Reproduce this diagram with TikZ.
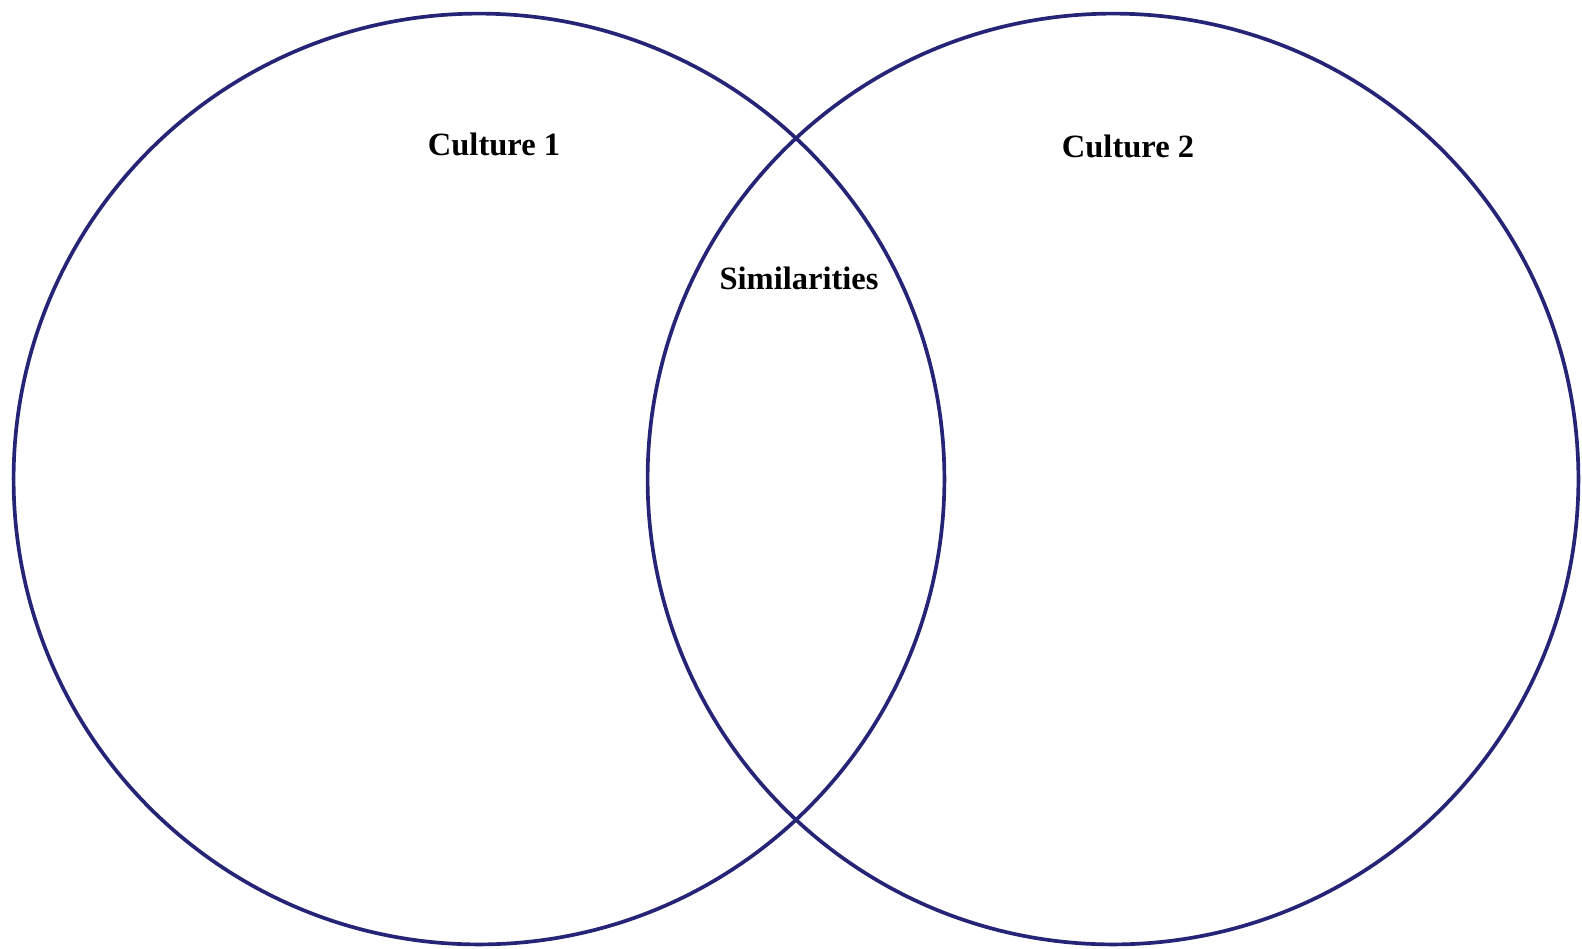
\documentclass[tikz,border=0pt]{standalone}
\usepackage{fontspec}
\setmainfont{Liberation Serif}
\usepackage{tikz}
\usetikzlibrary{positioning}
\definecolor{venblue}{RGB}{38,36,118}
\tikzset{
  ring/.style={circle,draw=venblue,line width=2.1pt,minimum size=18.62cm,inner sep=0pt},
  lbl/.style={font=\fontsize{18.5}{22}\selectfont\bfseries,inner sep=1pt}
}

\begin{document}
\begin{tikzpicture}[x=0.02cm,y=-0.02cm]
  \useasboundingbox (0,0) rectangle (1582,948);
  \node[ring] (c1) at (479,479) {};
  \node[ring] (c2) at (1113,479) {};
  \node[lbl] (t1) at (494,144) {Culture 1};
  \node[lbl] (t2) at (1128,146) {Culture 2};
  \node[lbl] (ts) at (799,278) {Similarities};
\end{tikzpicture}
\end{document}
